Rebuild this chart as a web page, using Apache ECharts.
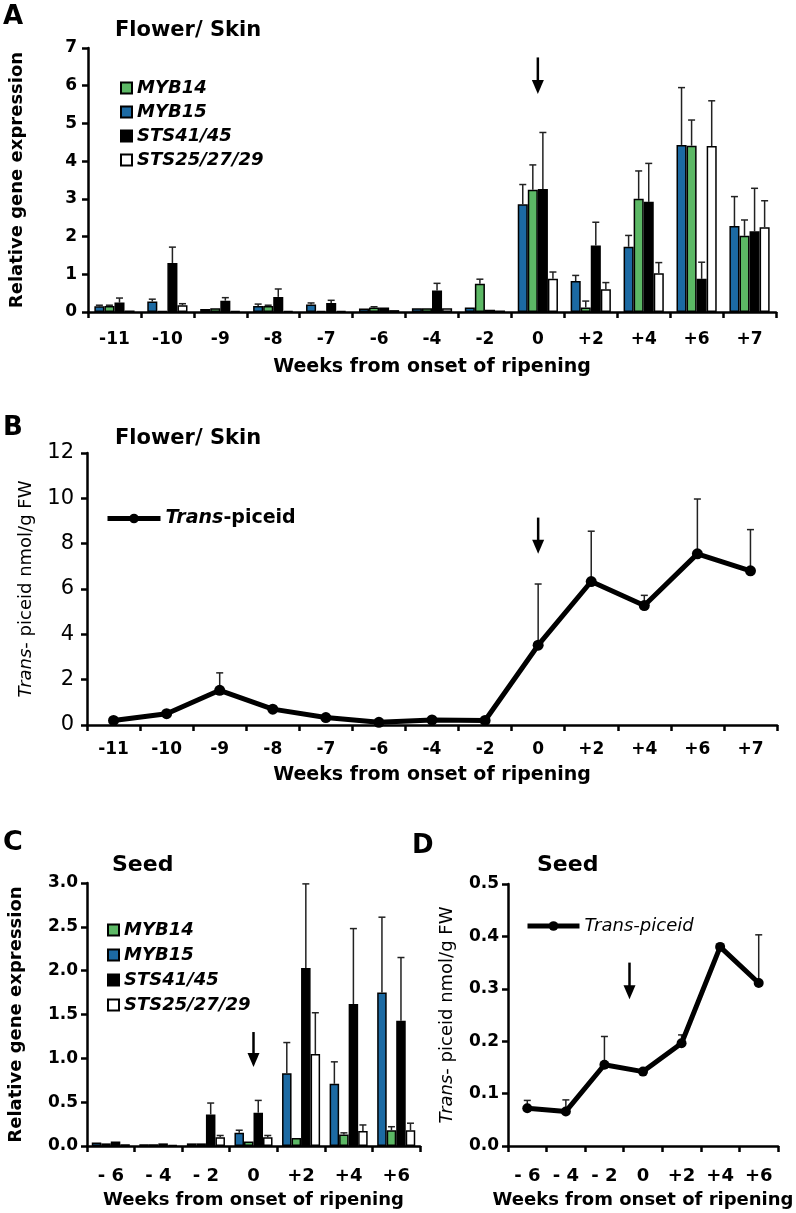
<!DOCTYPE html>
<html><head><meta charset="utf-8">
<script src="https://cdn.jsdelivr.net/npm/echarts/dist/echarts.min.js"></script>
<style>html,body{margin:0;padding:0;background:#fff}#c{width:796px;height:1213px}</style>
</head><body><div id="c"></div>
<script>
// ---------- categories ----------
const weeksAB = ['-11','-10','-9','-8','-7','-6','-4','-2','0','+2','+4','+6','+7'];
const weeksCD = ['- 6','- 4','- 2','0','+2','+4','+6'];

// ---------- Panel A: Flower/Skin gene expression ----------
const A_MYB15     = [0.15, 0.28, 0.08, 0.16, 0.20, 0.09, 0.10, 0.12, 2.86, 0.82, 1.73, 4.43, 2.28];
const A_MYB15_err = [0.03, 0.06, 0.00, 0.05, 0.04, 0.00, 0.00, 0.00, 0.52, 0.15, 0.30, 1.52, 0.78];
const A_MYB14     = [0.16, 0.02, 0.10, 0.16, 0.03, 0.12, 0.10, 0.75, 3.24, 0.12, 3.00, 4.41, 2.02];
const A_MYB14_err = [0.02, 0.00, 0.00, 0.02, 0.00, 0.02, 0.00, 0.12, 0.66, 0.17, 0.74, 0.68, 0.42];
const A_STS41     = [0.25, 1.30, 0.30, 0.40, 0.24, 0.12, 0.57, 0.06, 3.26, 1.76, 2.92, 0.88, 2.14];
const A_STS41_err = [0.12, 0.42, 0.08, 0.21, 0.07, 0.00, 0.19, 0.00, 1.50, 0.62, 1.02, 0.44, 1.14];
const A_STS25     = [0.04, 0.18, 0.03, 0.03, 0.03, 0.05, 0.10, 0.04, 0.88, 0.60, 1.03, 4.40, 2.25];
const A_STS25_err = [0.00, 0.04, 0.00, 0.00, 0.00, 0.00, 0.00, 0.00, 0.18, 0.18, 0.28, 1.20, 0.70];

// ---------- Panel B: Flower/Skin trans-piceid ----------
const B_piceid     = [0.20, 0.50, 1.53, 0.70, 0.33, 0.12, 0.22, 0.20, 3.52, 6.33, 5.27, 7.55, 6.80];
const B_piceid_err = [0.05, 0.08, 0.77, 0.10, 0.05, 0.00, 0.08, 0.05, 2.70, 2.22, 0.45, 2.42, 1.82];

// ---------- Panel C: Seed gene expression ----------
const C_MYB15     = [0.04, 0.02, 0.03, 0.15, 0.83, 0.71, 1.75];
const C_MYB15_err = [0.00, 0.00, 0.00, 0.03, 0.35, 0.25, 0.86];
const C_MYB14     = [0.03, 0.02, 0.03, 0.05, 0.09, 0.13, 0.18];
const C_MYB14_err = [0.00, 0.00, 0.00, 0.00, 0.00, 0.02, 0.04];
const C_STS41     = [0.05, 0.03, 0.36, 0.38, 2.03, 1.62, 1.43];
const C_STS41_err = [0.00, 0.00, 0.13, 0.14, 0.96, 0.86, 0.72];
const C_STS25     = [0.02, 0.01, 0.10, 0.10, 1.05, 0.17, 0.18];
const C_STS25_err = [0.00, 0.00, 0.02, 0.02, 0.47, 0.07, 0.08];

// ---------- Panel D: Seed trans-piceid ----------
const D_piceid     = [0.072, 0.066, 0.155, 0.142, 0.196, 0.380, 0.311];
const D_piceid_err = [0.015, 0.022, 0.054, 0.000, 0.016, 0.005, 0.092];

// ---------- onset-of-ripening arrows: [category index, offset (bands), from, to] ----------
const arrowA = [[8, 0, 6.75, 5.78]];
const arrowB = [[8, 0, 9.15, 7.55]];
const arrowC = [[3, 0, 1.30, 0.90]];
const arrowD = [[3, -0.35, 0.350, 0.280]];

const FF = 'DejaVu Sans';
const BLUE = '#1c6aa3', GREEN = '#5cb865';
const A_GAP = 0.24, C_GAP = 0.2;

function errBarRender(nSeries, catGap) {
  return function (params, api) {
    const cat = api.value(0), v = api.value(1), e = api.value(2), pos = api.value(3);
    if (!(e > 0)) return null;
    const band = api.size([1, 0])[0];
    const base = api.coord([cat, v]);
    const top = api.coord([cat, v + e]);
    let x = base[0];
    if (nSeries > 1) {
      const groupW = band * (1 - catGap);
      const barW = groupW / nSeries;
      x = base[0] - groupW / 2 + barW * (pos + 0.5);
    }
    const st = {stroke: '#222', lineWidth: 1.5};
    return {type: 'group', children: [
      {type: 'line', shape: {x1: x, y1: base[1], x2: x, y2: top[1]}, style: st},
      {type: 'line', shape: {x1: x - 3.5, y1: top[1], x2: x + 3.5, y2: top[1]}, style: st}
    ]};
  };
}
function arrowRender(params, api) {
  const band = api.size([1, 0])[0];
  const p1 = api.coord([api.value(0), api.value(2)]);
  const p2 = api.coord([api.value(0), api.value(3)]);
  const x = p1[0] + api.value(1) * band;
  const head = 14, hw = 6;
  return {type: 'group', children: [
    {type: 'line', shape: {x1: x, y1: p1[1], x2: x, y2: p2[1] - head + 2}, style: {stroke: '#000', lineWidth: 2.5}},
    {type: 'polygon', shape: {points: [[x - hw, p2[1] - head], [x + hw, p2[1] - head], [x, p2[1]]]}, style: {fill: '#000'}}
  ]};
}
function errData(list) {
  const out = [];
  list.forEach(function (pair, s) {
    pair[0].forEach(function (v, i) { out.push([i, v, pair[1][i], s]); });
  });
  return out;
}

function xAx(gridIndex, cats, labelSize, margin, nameGap, nameSize) {
  return {type: 'category', gridIndex: gridIndex, data: cats, boundaryGap: true,
    axisLine: {lineStyle: {color: '#000', width: 2.5}},
    axisTick: {show: true, length: 6, lineStyle: {color: '#000', width: 2.5}},
    axisLabel: {color: '#000', fontFamily: FF, fontWeight: 'bold', fontSize: labelSize, margin: margin, interval: 0},
    name: 'Weeks from onset of ripening', nameLocation: 'middle', nameGap: nameGap,
    nameTextStyle: {color: '#000', fontFamily: FF, fontWeight: 'bold', fontSize: nameSize},
    splitLine: {show: false}};
}
function yAx(gridIndex, max, interval, digits, labelWeight, labelSize, labelMargin, name, nameGap, nameWeight) {
  return {type: 'value', gridIndex: gridIndex, min: 0, max: max, interval: interval,
    axisLine: {show: true, lineStyle: {color: '#000', width: 2.5}},
    axisTick: {show: true, length: 6, lineStyle: {color: '#000', width: 2.5}},
    axisLabel: {color: '#000', fontFamily: FF, fontWeight: labelWeight, fontSize: labelSize, margin: labelMargin,
      formatter: function (v) { return v.toFixed(digits); }},
    splitLine: {show: false},
    name: name, nameLocation: 'middle', nameGap: nameGap,
    nameTextStyle: {color: '#000', fontFamily: FF, fontWeight: nameWeight, fontSize: 18,
      rich: {i: {fontStyle: 'italic', fontFamily: FF, fontWeight: nameWeight, fontSize: 18, color: '#000'}}}};
}
function barSeries(name, data, color, xi, gap) {
  return {type: 'bar', name: name, xAxisIndex: xi, yAxisIndex: xi, data: data,
    barGap: '0%', barCategoryGap: (gap * 100) + '%',
    itemStyle: {color: color, borderColor: '#000', borderWidth: 1.5}, emphasis: {disabled: true}};
}
function titleText(text, left, top, size) {
  return {text: text, left: left, top: top, padding: 0,
    textStyle: {fontFamily: FF, fontWeight: 'bold', fontSize: size, color: '#000'}};
}

const option = {
  backgroundColor: '#fff',
  animation: false,
  title: [
    titleText('A', 3, 4, 26), titleText('Flower/ Skin', 115, 20, 21),
    titleText('B', 3, 415, 26), titleText('Flower/ Skin', 115, 428, 21),
    titleText('C', 3, 829, 27), titleText('Seed', 112, 854, 22),
    titleText('D', 412, 833, 26), titleText('Seed', 537, 854, 22)
  ],
  grid: [
    {left: 87, top: 48, width: 689, height: 264},
    {left: 87, top: 453, width: 690, height: 272},
    {left: 87, top: 883, width: 333, height: 263},
    {left: 508, top: 884, width: 270, height: 262}
  ],
  legend: [
    {orient: 'vertical', left: 115, top: 74, itemGap: 6, itemWidth: 11, itemHeight: 11, icon: 'rect',
      data: ['MYB14', 'MYB15', 'STS41/45', 'STS25/27/29'], selectedMode: false,
      textStyle: {fontFamily: FF, fontWeight: 'bold', fontStyle: 'italic', fontSize: 18, color: '#000'}},
    {orient: 'vertical', left: 102, top: 916, itemGap: 7, itemWidth: 11, itemHeight: 11, icon: 'rect',
      data: ['MYB14', 'MYB15', 'STS41/45', 'STS25/27/29'], selectedMode: false,
      textStyle: {fontFamily: FF, fontWeight: 'bold', fontStyle: 'italic', fontSize: 18, color: '#000'}},
    {left: 100, top: 504, itemWidth: 53, itemHeight: 12, data: ['piceidB'], selectedMode: false,
      lineStyle: {width: 5, color: '#000'},
      formatter: function () { return '{i|Trans}-piceid'; },
      textStyle: {fontFamily: FF, fontWeight: 'bold', fontSize: 19, color: '#000',
        rich: {i: {fontFamily: FF, fontWeight: 'bold', fontStyle: 'italic', fontSize: 19, color: '#000'}}}},
    {left: 520, top: 912, itemWidth: 52, itemHeight: 12, data: ['piceidD'], selectedMode: false,
      lineStyle: {width: 5, color: '#000'},
      formatter: function () { return 'Trans-piceid'; },
      textStyle: {fontFamily: FF, fontWeight: 'normal', fontStyle: 'italic', fontSize: 18, color: '#000'}}
  ],
  xAxis: [
    xAx(0, weeksAB, 17, 19, 46, 19),
    xAx(1, weeksAB, 17, 16, 41, 19),
    xAx(2, weeksCD, 18, 21, 45, 18),
    xAx(3, weeksCD, 18, 21, 45, 18)
  ],
  yAxis: [
    yAx(0, 7, 1, 0, 'bold', 17, 11, 'Relative gene expression', 62, 'bold'),
    yAx(1, 12, 2, 0, 'normal', 21, 13, '{i|Trans}- piceid nmol/g FW', 52, 'normal'),
    yAx(2, 3, 0.5, 1, 'bold', 17, 9, 'Relative gene expression', 62, 'bold'),
    yAx(3, 0.5, 0.1, 1, 'bold', 17, 9, '{i|Trans}- piceid nmol/g FW', 52, 'normal')
  ],
  series: [
    // Panel A bars (left to right in each group: MYB15, MYB14, STS41/45, STS25/27/29)
    barSeries('MYB15', A_MYB15, BLUE, 0, A_GAP),
    barSeries('MYB14', A_MYB14, GREEN, 0, A_GAP),
    barSeries('STS41/45', A_STS41, '#000', 0, A_GAP),
    barSeries('STS25/27/29', A_STS25, '#fff', 0, A_GAP),
    {type: 'custom', name: 'errA', xAxisIndex: 0, yAxisIndex: 0, clip: false, silent: true,
      renderItem: errBarRender(4, A_GAP), encode: {x: 0, y: 1},
      data: errData([[A_MYB15, A_MYB15_err], [A_MYB14, A_MYB14_err], [A_STS41, A_STS41_err], [A_STS25, A_STS25_err]]), z: 1},
    {type: 'custom', name: 'arrowA', xAxisIndex: 0, yAxisIndex: 0, clip: false, silent: true,
      renderItem: arrowRender, encode: {x: 0, y: 2}, data: arrowA},
    // Panel B
    {type: 'line', name: 'piceidB', xAxisIndex: 1, yAxisIndex: 1, data: B_piceid,
      symbol: 'circle', symbolSize: 11, itemStyle: {color: '#000'}, lineStyle: {color: '#000', width: 5}, z: 3},
    {type: 'custom', name: 'errB', xAxisIndex: 1, yAxisIndex: 1, clip: false, silent: true,
      renderItem: errBarRender(1, 0), encode: {x: 0, y: 1},
      data: errData([[B_piceid, B_piceid_err]]), z: 2},
    {type: 'custom', name: 'arrowB', xAxisIndex: 1, yAxisIndex: 1, clip: false, silent: true,
      renderItem: arrowRender, encode: {x: 0, y: 2}, data: arrowB},
    // Panel C bars
    barSeries('MYB15', C_MYB15, BLUE, 2, C_GAP),
    barSeries('MYB14', C_MYB14, GREEN, 2, C_GAP),
    barSeries('STS41/45', C_STS41, '#000', 2, C_GAP),
    barSeries('STS25/27/29', C_STS25, '#fff', 2, C_GAP),
    {type: 'custom', name: 'errC', xAxisIndex: 2, yAxisIndex: 2, clip: false, silent: true,
      renderItem: errBarRender(4, C_GAP), encode: {x: 0, y: 1},
      data: errData([[C_MYB15, C_MYB15_err], [C_MYB14, C_MYB14_err], [C_STS41, C_STS41_err], [C_STS25, C_STS25_err]]), z: 1},
    {type: 'custom', name: 'arrowC', xAxisIndex: 2, yAxisIndex: 2, clip: false, silent: true,
      renderItem: arrowRender, encode: {x: 0, y: 2}, data: arrowC},
    // Panel D
    {type: 'line', name: 'piceidD', xAxisIndex: 3, yAxisIndex: 3, data: D_piceid,
      symbol: 'circle', symbolSize: 10, itemStyle: {color: '#000'}, lineStyle: {color: '#000', width: 5}, z: 3},
    {type: 'custom', name: 'errD', xAxisIndex: 3, yAxisIndex: 3, clip: false, silent: true,
      renderItem: errBarRender(1, 0), encode: {x: 0, y: 1},
      data: errData([[D_piceid, D_piceid_err]]), z: 2},
    {type: 'custom', name: 'arrowD', xAxisIndex: 3, yAxisIndex: 3, clip: false, silent: true,
      renderItem: arrowRender, encode: {x: 0, y: 2}, data: arrowD}
  ]
};
const chart = echarts.init(document.getElementById('c'), null, {renderer: 'canvas'});
chart.setOption(option);
</script>
</body></html>
